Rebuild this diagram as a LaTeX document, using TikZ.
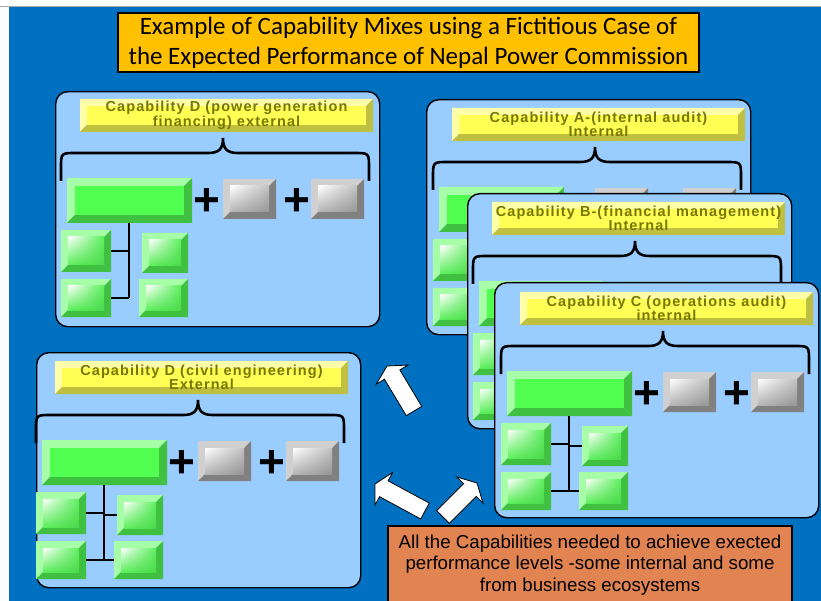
\documentclass[tikz,border=0pt]{standalone}
\usepackage{fontspec}
\setmainfont{Liberation Sans}
\newfontfamily\capfont{Liberation Sans}[LetterSpace=7.5]
\newfontfamily\ttlfont{Carlito}
\usetikzlibrary{calc,shadings}

\definecolor{bgblue}{RGB}{0,112,192}
\definecolor{cardblue}{RGB}{153,204,255}
\definecolor{yface}{RGB}{255,255,85}
\definecolor{ylight}{RGB}{255,255,170}
\definecolor{ydark}{RGB}{192,192,64}
\definecolor{olivetxt}{RGB}{120,120,0}
\definecolor{gface}{RGB}{80,255,80}
\definecolor{glight}{RGB}{166,255,166}
\definecolor{gdark}{RGB}{64,192,64}
\definecolor{sface}{RGB}{90,240,90}
\definecolor{rlight}{RGB}{208,208,208}
\definecolor{rdark}{RGB}{128,128,128}
\definecolor{rface}{RGB}{150,150,150}
\definecolor{ttlfill}{RGB}{255,192,0}
\definecolor{notefill}{RGB}{226,132,82}

\tikzset{
  bvl/.style n args={4}{inner sep=0pt, outer sep=0pt,
    path picture={
      \coordinate (bnw) at (path picture bounding box.north west);
      \coordinate (bne) at (path picture bounding box.north east);
      \coordinate (bsw) at (path picture bounding box.south west);
      \coordinate (bse) at (path picture bounding box.south east);
      \coordinate (inw) at ([xshift=#1pt,yshift=-#1pt]bnw);
      \coordinate (ine) at ([xshift=-#1pt,yshift=-#1pt]bne);
      \coordinate (isw) at ([xshift=#1pt,yshift=#1pt]bsw);
      \coordinate (ise) at ([xshift=-#1pt,yshift=#1pt]bse);
      \fill[#2] (bnw) -- (bne) -- (ine) -- (inw) -- cycle;
      \fill[#2] (bnw) -- (inw) -- (isw) -- (bsw) -- cycle;
      \fill[#3] (bne) -- (bse) -- (ise) -- (ine) -- cycle;
      \fill[#3] (bsw) -- (bse) -- (ise) -- (isw) -- cycle;
      \path[#4] (inw) rectangle (ise);
    }},
  cardbox/.style={draw=black, line width=1.4pt, fill=cardblue, rounded corners=12pt,
    minimum width=324pt, minimum height=235pt, inner sep=0pt, anchor=north west},
  banner/.style={bvl={7}{ylight}{ydark}{fill=yface}, minimum width=293pt, minimum height=33pt},
  captext/.style={font=\capfont\bfseries\fontsize{14.5}{11}\selectfont, text=olivetxt,
    align=center, inner sep=0pt},
  bigbox/.style={bvl={8}{glight}{gdark}{fill=gface}, minimum width=125pt, minimum height=45pt},
  smbox/.style={bvl={7}{glight}{gdark}{shade, upper left=white, upper right=sface,
    lower left=sface, lower right=gdark!50!sface}},
  greybox/.style={bvl={7}{rlight}{rdark}{shade, upper left=white, upper right=rface!60!white,
    lower left=rface!70!white, lower right=rface}, minimum width=53pt, minimum height=40pt},
  plussign/.style={font=\bfseries\fontsize{46}{46}\selectfont, inner sep=0pt, text=black},
  bracestyle/.style={draw=black, line width=2.6pt},
  conn/.style={draw=black, line width=1.3pt},
  arrowshape/.style={fill=white, draw=black, line width=0.8pt, line join=miter},
  titlebox/.style={fill=ttlfill, draw=black, line width=1.6pt, minimum width=581pt,
    minimum height=59pt, inner sep=0pt, align=center,
    font=\ttlfont\fontsize{25}{30}\selectfont},
  notebox/.style={fill=notefill, draw=black, line width=1.6pt, minimum width=404pt,
    minimum height=78pt, inner sep=0pt, align=center,
    font=\fontsize{18.7}{21.5}\selectfont}
}

% #1 prefix, #2 #3 content origin, #4 #5 card corner, #6 #7 title, #8 right links
\newcommand\capcard[8]{%
  \node[cardbox] (#1-card) at (#4,#5) {};
  \begin{scope}[shift={(#2,#3)}]
    \node[banner] (#1-banner) at (172.5,26.5) {};
    \node[captext] (#1-title) at (172.5,26.5) {#6\\#7};
    \draw[bracestyle] (7,92) -- (7,79) .. controls (7,64) .. (22,64) -- (154,64)
      .. controls (165,64) and (169,60) .. (169,49)
      .. controls (169,60) and (173,64) .. (184,64) -- (300,64)
      .. controls (315,64) .. (315,79) -- (315,92);
    \node[bigbox] (#1-big) at (75.5,111.5) {};
    \node[plussign] (#1-p1) at (153,113) {+};
    \node[greybox] (#1-g1) at (195.5,110) {};
    \node[plussign] (#1-p2) at (243,113) {+};
    \node[greybox] (#1-g2) at (283.5,110) {};
    \node[smbox, minimum width=50pt, minimum height=42pt] (#1-l1) at (32,162) {};
    \node[smbox, minimum width=50pt, minimum height=38pt] (#1-l2) at (32,209) {};
    \node[smbox, minimum width=46pt, minimum height=40pt] (#1-r1) at (111,164) {};
    \node[smbox, minimum width=49pt, minimum height=38pt] (#1-r2) at (109.5,209) {};
    \coordinate (#1-vx) at (75,0);
    \draw[conn] (#1-big.south -| #1-vx) -- (#1-vx |- #1-l2.east);
    \draw[conn] (#1-l1.east) -- (#1-l1.east -| #1-vx);
    \draw[conn] (#1-l2.east) -- (#1-l2.east -| #1-vx);
    \ifnum#8=1
      \draw[conn] (#1-r1.west) -- (#1-r1.west -| #1-vx);
      \draw[conn] (#1-r2.west) -- (#1-r2.west -| #1-vx);
    \fi
  \end{scope}}

% #1 name, #2 tail, #3 tip
\newcommand\blockarrow[3]{%
  \coordinate (#1-t) at #2;
  \coordinate (#1-p) at #3;
  \coordinate (#1-h) at ($(#1-p)!10pt!(#1-t)$);
  \draw[arrowshape] ($(#1-t)!9pt!90:(#1-p)$) -- ($(#1-h)!9pt!90:(#1-p)$)
    -- ($(#1-h)!18.5pt!90:(#1-p)$) -- (#1-p) -- ($(#1-h)!18.5pt!-90:(#1-p)$)
    -- ($(#1-h)!9pt!-90:(#1-p)$) -- ($(#1-t)!9pt!-90:(#1-p)$) -- cycle;}

\begin{document}
\begin{tikzpicture}[x=1pt,y=-1pt]
  \useasboundingbox (0,0) rectangle (821,601);
  \fill[white] (0,0) rectangle (821,601);
  \fill[bgblue] (9,7) rectangle (821,601);
  \draw[gray!70, line width=0.8pt] (0,6.5) -- (821,6.5);

  \capcard{dt}{54}{89}{55}{91}{Capability D (power generation}{financing) external}{0}
  \capcard{ca}{426}{98}{426}{99}{Capability A-(internal audit)}{Internal}{0}
  \capcard{cb}{466}{192}{467}{193}{Capability B-(financial management)}{Internal}{0}
  \capcard{cc}{494}{282}{494}{282}{Capability C (operations audit)}{internal}{1}
  \capcard{dc}{29}{351}{36}{352}{Capability D (civil engineering)}{External}{1}

  \blockarrow{a1}{(414,411)}{(387,366)}
  \blockarrow{a2}{(425,511)}{(375,484)}
  \blockarrow{a3}{(443,517)}{(477,483)}

  \node[titlebox] (title) at (408.5,42.5)
    {Example of Capability Mixes using a Fictitious Case of\\the Expected Performance of Nepal Power Commission};
  \node[notebox] (note) at (590,565)
    {All the Capabilities needed to achieve exected\\performance levels -some internal and some\\from business ecosystems};
\end{tikzpicture}
\end{document}
